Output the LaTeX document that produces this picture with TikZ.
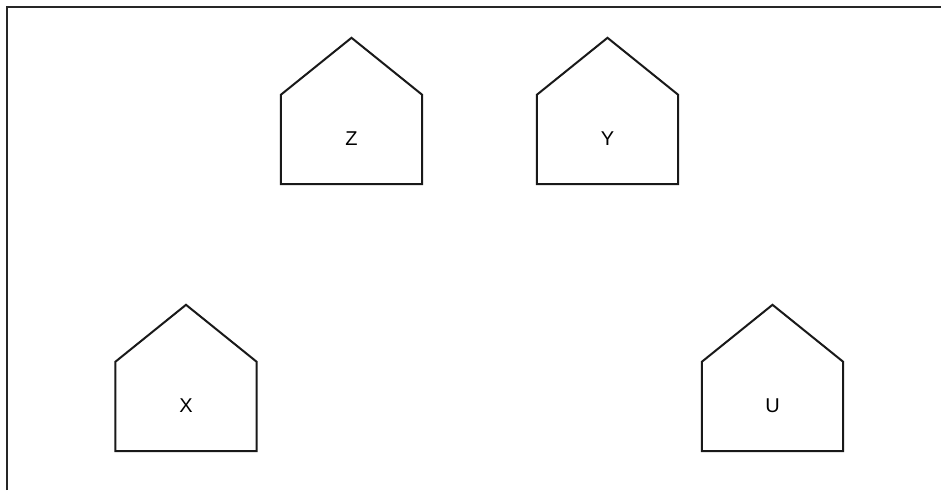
\documentclass[tikz,border=0pt]{standalone}
\usepackage{fontspec}
\setmainfont{Liberation Sans}
\begin{document}
\begin{tikzpicture}[x=1pt,y=-1pt,
  frameline/.style={line width=2.4pt,draw=black!85},
  housebody/.style={minimum width=141pt,minimum height=89pt,inner sep=0pt,font=\fontsize{20}{24}\selectfont},
  houseline/.style={line width=2pt,draw=black!90,line join=miter}]
\useasboundingbox (0,0) rectangle (941,490);
\draw[frameline] (7,490) -- (7,7) -- (941,7);
\newcommand{\house}[3]{%
  \node[housebody] (#1) at (#2) {\raisebox{1.5pt}{#3}};
  \draw[houseline] (#1.north west) -- (#1.south west) -- (#1.south east) -- (#1.north east) -- ([yshift=57pt]#1.north) -- cycle;}
\house{z}{351.5,139.5}{Z}
\house{y}{607.5,139.5}{Y}
\house{x}{186,406.5}{X}
\house{u}{772.5,406.5}{U}
\end{tikzpicture}
\end{document}
